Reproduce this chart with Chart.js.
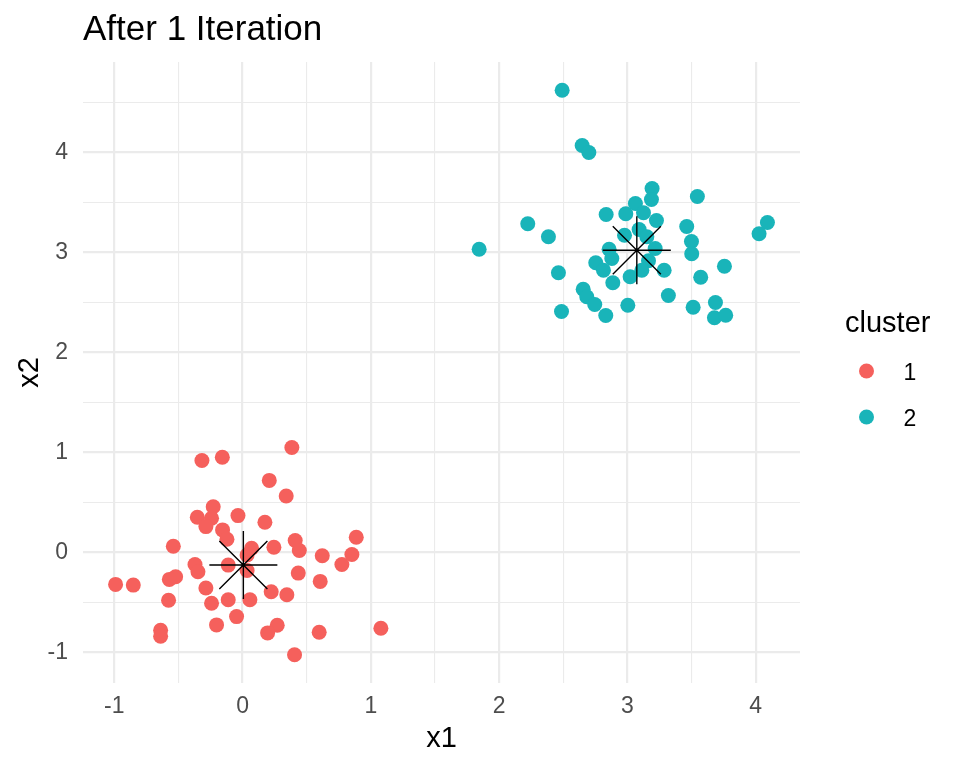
<!DOCTYPE html>
<html>
<head>
<meta charset="utf-8">
<script src="https://cdn.jsdelivr.net/npm/chart.js@4.4.1/dist/chart.umd.min.js"></script>
<style>
  html, body { margin: 0; padding: 0; background: #ffffff; }
  #wrap { width: 960px; height: 768px; position: relative; }
</style>
</head>
<body>
<div id="wrap"><canvas id="c"></canvas></div>
<script>
// ---- Data ----
const clusterNames = ['1', '2'];

const cluster1X = [0.384, -0.317, -0.158, 0.208, 0.340, -0.229, -0.353, -0.242, -0.286, -0.036,
  0.174, -0.156, -0.122, 0.070, 0.244, 0.410, 0.442, 0.886, 0.852, 0.621,
  0.774, -0.540, -0.990, -0.852, -0.371, -0.348, -0.522, -0.571, -0.112, 0.035,
  0.434, 0.605, -0.286, -0.577, -0.242, -0.112, 0.057, 0.223, 0.345, -0.047,
  -0.203, 0.270, 0.195, 0.597, 1.078, -0.639, -0.639, 0.405, 0.035];
const cluster1Y = [1.050, 0.920, 0.953, 0.721, 0.565, 0.458, 0.352, 0.342, 0.259, 0.369,
  0.302, 0.226, 0.133, 0.043, 0.053, 0.120, 0.020, 0.153, -0.020, -0.033,
  -0.120, 0.063, -0.319, -0.326, -0.120, -0.193, -0.243, -0.269, -0.126, -0.025,
  -0.206, -0.289, -0.355, -0.478, -0.508, -0.472, -0.472, -0.392, -0.422, -0.641,
  -0.724, -0.728, -0.804, -0.797, -0.757, -0.777, -0.837, -1.023, -0.180];

const cluster2X = [2.491, 2.647, 2.699, 3.192, 3.187, 3.545, 3.062, 2.834, 2.987, 3.125,
  3.226, 2.223, 2.384, 1.844, 3.462, 3.499, 3.501, 4.091, 4.026, 2.977,
  3.091, 3.151, 2.857, 2.878, 2.753, 2.813, 3.216, 3.164, 3.112, 3.286,
  3.021, 2.886, 2.462, 2.655, 2.683, 2.745, 2.831, 2.486, 3.003, 3.319,
  3.571, 3.756, 3.512, 3.686, 3.678, 3.766];
const cluster2Y = [4.623, 4.070, 4.000, 3.640, 3.530, 3.560, 3.490, 3.380, 3.387, 3.397,
  3.320, 3.287, 3.157, 3.033, 3.260, 3.110, 2.987, 3.300, 3.187, 3.173,
  3.230, 3.157, 3.033, 2.940, 2.897, 2.823, 3.040, 2.917, 2.823, 2.823,
  2.757, 2.697, 2.797, 2.633, 2.557, 2.480, 2.370, 2.410, 2.473, 2.570,
  2.753, 2.863, 2.453, 2.500, 2.347, 2.373];

const centroidX = [0.006, 3.073];
const centroidY = [-0.125, 3.023];

const xTickValues = [-1, 0, 1, 2, 3, 4];
const xTickLabels = ['-1', '0', '1', '2', '3', '4'];
const yTickValues = [-1, 0, 1, 2, 3, 4];
const yTickLabels = ['-1', '0', '1', '2', '3', '4'];
const xGridValues = [-1, -0.5, 0, 0.5, 1, 1.5, 2, 2.5, 3, 3.5, 4];
const yGridValues = [-1, -0.5, 0, 0.5, 1, 1.5, 2, 2.5, 3, 3.5, 4, 4.5];

const xLimits = [-1.244, 4.345];
const yLimits = [-1.305, 4.905];

const titleText = 'After 1 Iteration';
const xTitle = 'x1';
const yTitle = 'x2';
const legendTitle = 'cluster';

// ---- Styling ----
const FONT = '"Liberation Sans", Arial, Helvetica, sans-serif';
const clusterColors = ['#F5605C', '#19B4B9'];
const GRID = '#EBEBEB';
const TICK_COLOR = '#4D4D4D';

const toPoints = (xs, ys) => xs.map((x, i) => ({ x: x, y: ys[i] }));

const legendPlugin = {
  id: 'ggLegend',
  afterDraw(chart) {
    const ctx = chart.ctx;
    ctx.save();
    ctx.fillStyle = '#000000';
    ctx.font = '29px ' + FONT;
    ctx.textAlign = 'left';
    ctx.textBaseline = 'alphabetic';
    ctx.fillText(legendTitle, 845, 332);
    const rows = [371, 417];
    clusterNames.forEach((name, i) => {
      ctx.beginPath();
      ctx.fillStyle = clusterColors[i];
      ctx.arc(866.5, rows[i], 7.5, 0, Math.PI * 2);
      ctx.fill();
      ctx.fillStyle = '#000000';
      ctx.font = '23px ' + FONT;
      ctx.fillText(name, 903.5, rows[i] + 8.8);
    });
    ctx.restore();
  }
};

const gridWidth = (ctx) => Number.isInteger(ctx.tick.value) ? 2.2 : 1.1;

new Chart(document.getElementById('c'), {
  type: 'scatter',
  data: {
    datasets: [
      {
        label: 'centroid',
        data: toPoints(centroidX, centroidY),
        pointStyle: 'star',
        pointRadius: 34,
        borderColor: '#000000',
        backgroundColor: 'rgba(0,0,0,0)',
        pointBorderWidth: 1.4,
        order: 0
      },
      {
        label: clusterNames[0],
        data: toPoints(cluster1X, cluster1Y),
        pointStyle: 'circle',
        pointRadius: 7.5,
        backgroundColor: clusterColors[0],
        borderColor: clusterColors[0],
        pointBorderWidth: 0,
        order: 1
      },
      {
        label: clusterNames[1],
        data: toPoints(cluster2X, cluster2Y),
        pointStyle: 'circle',
        pointRadius: 7.5,
        backgroundColor: clusterColors[1],
        borderColor: clusterColors[1],
        pointBorderWidth: 0,
        order: 2
      }
    ]
  },
  options: {
    responsive: true,
    maintainAspectRatio: false,
    animation: false,
    events: [],
    layout: { padding: { top: 0, right: 160, bottom: 0, left: 0 } },
    plugins: {
      legend: { display: false },
      tooltip: { enabled: false },
      title: {
        display: true,
        text: titleText,
        align: 'start',
        fullSize: false,
        color: '#000000',
        font: { family: FONT, size: 35, weight: 'normal', lineHeight: 1.2 },
        padding: { top: 9, bottom: 11 }
      }
    },
    scales: {
      x: {
        type: 'linear',
        min: xLimits[0],
        max: xLimits[1],
        afterBuildTicks: (s) => { s.ticks = xGridValues.map(v => ({ value: v })); },
        afterFit: (s) => { s.height = 85; },
        ticks: {
          autoSkip: false,
          maxRotation: 0,
          padding: 10,
          color: TICK_COLOR,
          font: { family: FONT, size: 23, lineHeight: 1.2 },
          callback: (v) => { const i = xTickValues.indexOf(v); return i >= 0 ? xTickLabels[i] : ''; }
        },
        grid: { color: GRID, lineWidth: gridWidth, drawTicks: false },
        border: { display: false },
        title: {
          display: true, text: xTitle, color: '#000000',
          font: { family: FONT, size: 29, lineHeight: 1.2 },
          padding: { top: 0, bottom: 12 }
        }
      },
      y: {
        type: 'linear',
        min: yLimits[0],
        max: yLimits[1],
        afterBuildTicks: (s) => { s.ticks = yGridValues.map(v => ({ value: v })); },
        afterFit: (s) => { s.width = 83; },
        ticks: {
          autoSkip: false,
          padding: 15,
          color: TICK_COLOR,
          font: { family: FONT, size: 23, lineHeight: 1.2 },
          callback: (v) => { const i = yTickValues.indexOf(v); return i >= 0 ? yTickLabels[i] : ''; }
        },
        grid: { color: GRID, lineWidth: gridWidth, drawTicks: false },
        border: { display: false },
        title: {
          display: true, text: yTitle, color: '#000000',
          font: { family: FONT, size: 29, lineHeight: 1.2 },
          padding: { top: 13, bottom: 0 }
        }
      }
    }
  },
  plugins: [legendPlugin]
});
</script>
</body>
</html>
